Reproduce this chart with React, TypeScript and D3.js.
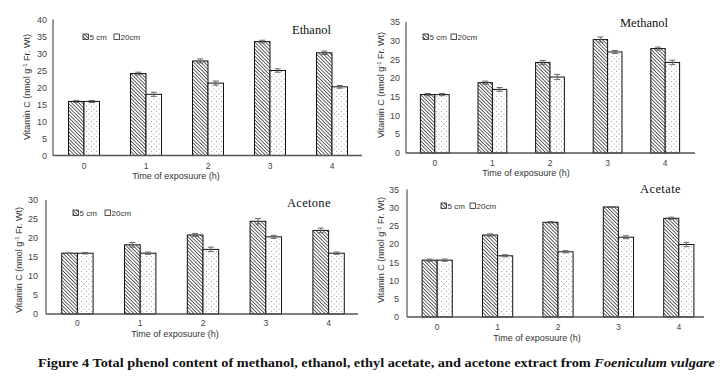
import React from "react";
import * as d3 from "d3";

const categories = ["0", "1", "2", "3", "4"];
const seriesNames = ["5 cm", "20cm"];

const ethanol5 = [15.9, 24.1, 27.8, 33.5, 30.2];
const ethanol20 = [15.9, 18.0, 21.3, 25.0, 20.2];
const ethanol5Err = [0.3, 0.4, 0.6, 0.4, 0.5];
const ethanol20Err = [0.3, 0.6, 0.6, 0.5, 0.4];

const methanol5 = [15.6, 18.8, 24.2, 30.3, 27.9];
const methanol20 = [15.6, 17.0, 20.3, 27.0, 24.2];
const methanol5Err = [0.3, 0.4, 0.5, 0.7, 0.4];
const methanol20Err = [0.3, 0.5, 0.7, 0.4, 0.6];

const acetone5 = [16.0, 18.2, 20.8, 24.4, 22.0];
const acetone20 = [16.0, 16.0, 17.0, 20.3, 16.0];
const acetone5Err = [0.1, 0.6, 0.4, 0.7, 0.6];
const acetone20Err = [0.2, 0.3, 0.6, 0.4, 0.3];

const acetate5 = [15.6, 22.5, 26.0, 30.2, 27.1];
const acetate20 = [15.6, 16.8, 17.9, 21.9, 19.9];
const acetate5Err = [0.3, 0.3, 0.2, 0.1, 0.3];
const acetate20Err = [0.3, 0.3, 0.3, 0.4, 0.6];

const yTicksEthanol = [0, 5, 10, 15, 20, 25, 30, 35, 40];
const yTicksMethanol = [0, 5, 10, 15, 20, 25, 30, 35];
const yTicksAcetone = [0, 5, 10, 15, 20, 25, 30];
const yTicksAcetate = [0, 5, 10, 15, 20, 25, 30, 35];

const yTitle = "Vitamin C (nmol g";
const xTitle = "Time of exposuure (h)";

type Panel = {
  name: string;
  s5: number[];
  s20: number[];
  e5: number[];
  e20: number[];
  ticks: number[];
  x0: number; x1: number; axisEnd: number;
  y0: number; y1: number;
  tickRight: number;
  yTitleX: number; yTitleY: number;
  xLabelY: number; xTitleX: number; xTitleY: number;
  legendX: number; legendX2: number; legendY: number;
  titleX: number; titleY: number; titleSpacing: number;
};

const panels: Panel[] = [
  {
    name: "Ethanol", s5: ethanol5, s20: ethanol20, e5: ethanol5Err, e20: ethanol20Err, ticks: yTicksEthanol,
    x0: 53, x1: 363, axisEnd: 362, y0: 155.5, y1: 19.5, tickRight: 47,
    yTitleX: 30, yTitleY: 87, xLabelY: 169, xTitleX: 176, xTitleY: 179,
    legendX: 83, legendX2: 114, legendY: 37, titleX: 292, titleY: 34, titleSpacing: 0,
  },
  {
    name: "Methanol", s5: methanol5, s20: methanol20, e5: methanol5Err, e20: methanol20Err, ticks: yTicksMethanol,
    x0: 406, x1: 694, axisEnd: 695, y0: 153, y1: 22, tickRight: 400,
    yTitleX: 384, yTitleY: 85, xLabelY: 166, xTitleX: 526, xTitleY: 176,
    legendX: 423, legendX2: 451, legendY: 37, titleX: 620, titleY: 27, titleSpacing: 0,
  },
  {
    name: "Acetone", s5: acetone5, s20: acetone20, e5: acetone5Err, e20: acetone20Err, ticks: yTicksAcetone,
    x0: 46, x1: 360, axisEnd: 358, y0: 314, y1: 200, tickRight: 38,
    yTitleX: 22, yTitleY: 260, xLabelY: 326, xTitleX: 175, xTitleY: 337,
    legendX: 73, legendX2: 105, legendY: 213, titleX: 287, titleY: 207, titleSpacing: 0.3,
  },
  {
    name: "Acetate", s5: acetate5, s20: acetate20, e5: acetate5Err, e20: acetate20Err, ticks: yTicksAcetate,
    x0: 407, x1: 709, axisEnd: 704, y0: 317, y1: 189.5, tickRight: 399,
    yTitleX: 384, yTitleY: 250, xLabelY: 330, xTitleX: 537, xTitleY: 341,
    legendX: 441, legendX2: 470, legendY: 206, titleX: 640, titleY: 193, titleSpacing: 0.4,
  },
];

const sans = "'Liberation Sans', Arial, sans-serif";
const serif = "'Liberation Serif', 'Times New Roman', serif";

function PanelChart({ p }: { p: Panel }) {
  const x = d3.scaleBand<string>().domain(categories).range([p.x0, p.x1]).paddingInner(0.5).paddingOuter(0.25);
  const inner = d3.scaleBand<string>().domain(seriesNames).range([0, x.bandwidth()]);
  const yMax = p.ticks[p.ticks.length - 1];
  const y = d3.scaleLinear().domain([0, yMax]).range([p.y0, p.y1]);
  const series = [
    { key: seriesNames[0], vals: p.s5, errs: p.e5, fill: "url(#hatch)" },
    { key: seriesNames[1], vals: p.s20, errs: p.e20, fill: "url(#dots)" },
  ];
  return (
    <g>
      {series.map((s) =>
        categories.map((c, i) => {
          const bx = (x(c) ?? 0) + (inner(s.key) ?? 0);
          const bw = inner.bandwidth();
          const top = y(s.vals[i]);
          const cx = bx + bw / 2;
          const eHi = y(s.vals[i] + s.errs[i]);
          const eLo = y(s.vals[i] - s.errs[i]);
          return (
            <g key={s.key + c}>
              <rect x={bx} y={top} width={bw} height={y(0) - top} fill={s.fill} stroke="#111" strokeWidth={1} />
              <line x1={cx} x2={cx} y1={eHi} y2={eLo} stroke="#666" strokeWidth={1} />
              <line x1={cx - 3} x2={cx + 3} y1={eHi} y2={eHi} stroke="#666" strokeWidth={1} />
              <line x1={cx - 3} x2={cx + 3} y1={eLo} y2={eLo} stroke="#666" strokeWidth={1} />
            </g>
          );
        })
      )}
      <line x1={p.x0} x2={p.x0} y1={p.y1} y2={p.y0} stroke="#333" strokeWidth={1} />
      <line x1={p.x0} x2={p.axisEnd} y1={p.y0} y2={p.y0} stroke="#555" strokeWidth={1.5} />
      {p.ticks.map((t) => (
        <text key={t} x={p.tickRight} y={y(t)} dy="0.35em" textAnchor="end" fontSize={9} fill="#444" fontFamily={sans}>
          {t}
        </text>
      ))}
      {categories.map((c) => (
        <text key={c} x={(x(c) ?? 0) + x.bandwidth() / 2} y={p.xLabelY} textAnchor="middle" fontSize={8.5} fill="#444" fontFamily={sans}>
          {c}
        </text>
      ))}
      <text x={p.xTitleX} y={p.xTitleY} textAnchor="middle" fontSize={9} fill="#333" fontFamily={sans}>
        {xTitle}
      </text>
      <text
        transform={`translate(${p.yTitleX},${p.yTitleY}) rotate(-90)`}
        textAnchor="middle"
        fontSize={9}
        fill="#333"
        fontFamily={sans}
      >
        {yTitle}
        <tspan dy={-3} fontSize={6}>-1</tspan>
        <tspan dy={3}> Fr. Wt)</tspan>
      </text>
      <rect x={p.legendX} y={p.legendY - 3} width={5.5} height={5.5} fill="url(#hatch)" stroke="#222" strokeWidth={0.8} />
      <text x={p.legendX + 6.5} y={p.legendY} dy="0.35em" fontSize={8} fill="#333" fontFamily={sans}>{seriesNames[0]}</text>
      <rect x={p.legendX2} y={p.legendY - 3} width={5.5} height={5.5} fill="#fff" stroke="#222" strokeWidth={0.8} />
      <text x={p.legendX2 + 6.5} y={p.legendY} dy="0.35em" fontSize={8} fill="#333" fontFamily={sans}>{seriesNames[1]}</text>
      <text x={p.titleX} y={p.titleY} fontSize={12.5} fill="#111" fontFamily={serif} letterSpacing={p.titleSpacing}>
        {p.name}
      </text>
    </g>
  );
}

export default function App() {
  return (
    <svg width={724} height={379} style={{ position: "absolute", left: 0, top: 0, background: "#fff" }}>
      <defs>
        <pattern id="hatch" patternUnits="userSpaceOnUse" width={2.5} height={2.5} patternTransform="rotate(-45)">
          <rect width={2.5} height={2.5} fill="#fff" />
          <line x1={0} y1={0} x2={0} y2={2.5} stroke="#222" strokeWidth={1.4} />
        </pattern>
        <pattern id="dots" patternUnits="userSpaceOnUse" width={5} height={5}>
          <rect width={5} height={5} fill="#fff" />
          <circle cx={1.5} cy={1.5} r={0.5} fill="#888" />
          <circle cx={4} cy={4} r={0.5} fill="#888" />
        </pattern>
      </defs>
      <rect width={724} height={379} fill="#fff" />
      {panels.map((p) => (
        <PanelChart key={p.name} p={p} />
      ))}
      <text x={38} y={367} fontSize={13.5} fontWeight="bold" fill="#111" fontFamily={serif} textLength={677} lengthAdjust="spacingAndGlyphs">
        Figure 4 Total phenol content of methanol, ethanol, ethyl acetate, and acetone extract from{" "}
        <tspan fontStyle="italic">Foeniculum vulgare</tspan>
      </text>
    </svg>
  );
}
